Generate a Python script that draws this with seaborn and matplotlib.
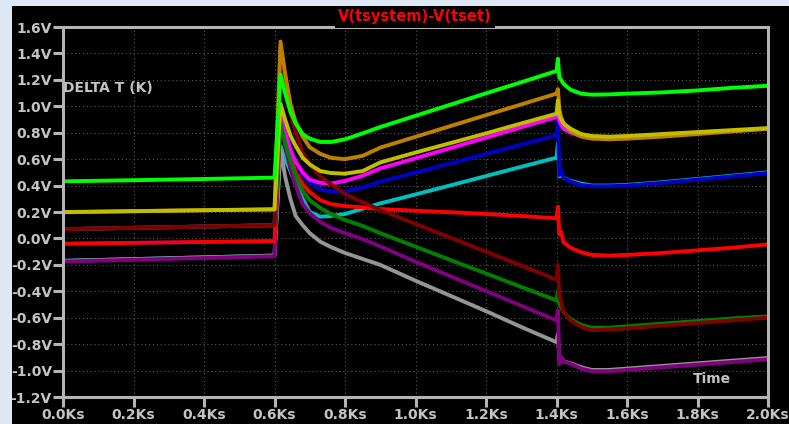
import matplotlib
matplotlib.use("Agg")
import matplotlib.pyplot as plt
from matplotlib.patches import Rectangle
import pandas as pd
import seaborn as sns

# ---------------- data ----------------
time_ks = [0.0, 0.3, 0.6, 0.617, 0.63, 0.645, 0.66, 0.68, 0.70, 0.73, 0.76, 0.80, 0.85, 0.90,
           1.0, 1.1, 1.2, 1.3, 1.4, 1.404, 1.408, 1.413, 1.42, 1.44, 1.47, 1.50, 1.55, 1.60,
           1.70, 1.80, 1.90, 2.0]

lime = [0.432, 0.445, 0.46, 1.24, 1.10, 0.96, 0.87, 0.79, 0.755, 0.73, 0.73, 0.75, 0.795, 0.843,
        0.928, 1.013, 1.098, 1.182, 1.267, 1.36, 1.22, 1.20, 1.17, 1.125, 1.095, 1.088, 1.09, 1.096,
        1.105, 1.12, 1.14, 1.155]
gold = [0.20, 0.21, 0.22, 1.49, 1.25, 1.02, 0.88, 0.77, 0.69, 0.64, 0.61, 0.60, 0.625, 0.687,
        0.769, 0.851, 0.933, 1.014, 1.096, 1.13, 0.98, 0.92, 0.87, 0.81, 0.77, 0.755, 0.75, 0.755,
        0.77, 0.79, 0.81, 0.83]
yellow = [0.198, 0.21, 0.22, 1.02, 0.90, 0.78, 0.70, 0.61, 0.56, 0.51, 0.495, 0.49, 0.51, 0.575,
          0.65, 0.722, 0.795, 0.87, 0.944, 1.045, 0.93, 0.90, 0.87, 0.83, 0.79, 0.775, 0.77, 0.775,
          0.79, 0.805, 0.82, 0.835]
magenta = [0.07, 0.085, 0.10, 0.95, 0.80, 0.67, 0.58, 0.50, 0.445, 0.42, 0.415, 0.435, 0.475, 0.53,
           0.606, 0.684, 0.763, 0.841, 0.919, 0.96, 0.89, 0.86, 0.83, 0.80, 0.775, 0.765, 0.765, 0.77,
           0.785, 0.80, 0.815, 0.83]
blue = [-0.04, -0.03, -0.02, 1.00, 0.82, 0.68, 0.58, 0.48, 0.42, 0.37, 0.355, 0.355, 0.385, 0.43,
        0.498, 0.568, 0.639, 0.71, 0.78, 0.90, 0.48, 0.52, 0.46, 0.43, 0.405, 0.395, 0.395, 0.40,
        0.42, 0.445, 0.47, 0.495]
cyan = [-0.17, -0.15, -0.13, 0.70, 0.60, 0.51, 0.41, 0.30, 0.20, 0.165, 0.17, 0.185, 0.225, 0.265,
        0.333, 0.402, 0.472, 0.542, 0.611, 0.72, 0.47, 0.48, 0.46, 0.435, 0.415, 0.40, 0.40, 0.405,
        0.425, 0.45, 0.475, 0.50]
red = [-0.04, -0.03, -0.02, 1.00, 0.80, 0.63, 0.50, 0.41, 0.35, 0.29, 0.26, 0.245, 0.235, 0.222,
       0.21, 0.198, 0.185, 0.17, 0.152, 0.24, 0.03, 0.05, -0.03, -0.07, -0.105, -0.125, -0.13, -0.125,
       -0.11, -0.09, -0.07, -0.045]
darkred = [0.07, 0.085, 0.10, 1.46, 1.20, 0.95, 0.80, 0.65, 0.56, 0.47, 0.41, 0.335, 0.275, 0.215,
           0.11, 0.005, -0.10, -0.205, -0.312, -0.20, -0.45, -0.47, -0.56, -0.62, -0.67, -0.695, -0.69,
           -0.68, -0.66, -0.64, -0.62, -0.60]
green = [0.07, 0.085, 0.10, 0.88, 0.72, 0.59, 0.47, 0.36, 0.29, 0.23, 0.185, 0.14, 0.095, 0.04,
         -0.062, -0.164, -0.265, -0.367, -0.469, -0.40, -0.50, -0.52, -0.56, -0.61, -0.655, -0.675,
         -0.675, -0.665, -0.645, -0.625, -0.605, -0.59]
purple = [-0.175, -0.155, -0.135, 0.92, 0.70, 0.53, 0.40, 0.26, 0.19, 0.125, 0.08, 0.04, -0.005, -0.06,
          -0.176, -0.287, -0.398, -0.509, -0.62, -0.545, -0.95, -0.90, -0.93, -0.95, -0.985, -1.005,
          -1.005, -0.995, -0.975, -0.955, -0.935, -0.915]
gray = [-0.17, -0.15, -0.13, 0.68, 0.47, 0.30, 0.17, 0.10, 0.04, -0.025, -0.065, -0.11, -0.155, -0.20,
        -0.32, -0.435, -0.55, -0.67, -0.785, -0.72, -0.92, -0.90, -0.93, -0.945, -0.975, -0.995,
        -0.995, -0.985, -0.965, -0.945, -0.925, -0.905]

# drawing order (bottom -> top) and colours
series = {
    "cyan": (cyan, "#00bfbf"),
    "gray": (gray, "#959595"),
    "purple": (purple, "#800080"),
    "blue": (blue, "#0000c8"),
    "red": (red, "#ff0000"),
    "magenta": (magenta, "#ff00ff"),
    "green": (green, "#008000"),
    "darkred": (darkred, "#800000"),
    "gold": (gold, "#bf8000"),
    "yellow": (yellow, "#bfbf00"),
    "lime": (lime, "#00ff00"),
}

y_ticks = [-1.2, -1.0, -0.8, -0.6, -0.4, -0.2, 0.0, 0.2, 0.4, 0.6, 0.8, 1.0, 1.2, 1.4, 1.6]
y_labels = ["-1.2V", "-1.0V", "-0.8V", "-0.6V", "-0.4V", "-0.2V", "0.0V", "0.2V", "0.4V",
            "0.6V", "0.8V", "1.0V", "1.2V", "1.4V", "1.6V"]
x_ticks = [0.0, 0.2, 0.4, 0.6, 0.8, 1.0, 1.2, 1.4, 1.6, 1.8, 2.0]
x_labels = ["0.0Ks", "0.2Ks", "0.4Ks", "0.6Ks", "0.8Ks", "1.0Ks", "1.2Ks", "1.4Ks", "1.6Ks",
            "1.8Ks", "2.0Ks"]

rows = []
for name, (vals, _c) in series.items():
    for t, v in zip(time_ks, vals):
        rows.append({"t": t, "v": v, "series": name})
df = pd.DataFrame(rows)
palette = {name: c for name, (_v, c) in series.items()}
order = list(series.keys())

# ---------------- figure ----------------
W, H = 789, 424
fig = plt.figure(figsize=(W / 100, H / 100), dpi=100, facecolor="#dde8f4")
fig.add_artist(Rectangle((12 / W, 0), 1, 1 - 6 / H, transform=fig.transFigure,
                         facecolor="black", edgecolor="none", zorder=-10))

ax = fig.add_axes([63 / W, 1 - 397 / H, (768 - 63) / W, (397 - 27) / H])
ax.set_facecolor("black")

sns.lineplot(data=df, x="t", y="v", hue="series", hue_order=order, palette=palette,
             linewidth=2.8, legend=False, estimator=None, sort=False, ax=ax)
for ln in ax.get_lines():
    ln.set_solid_joinstyle("round")
    ln.set_solid_capstyle("round")

ax.set_xlim(0, 2.0)
ax.set_ylim(-1.2, 1.6)
ax.set_xticks(x_ticks)
ax.set_xticklabels(x_labels)
ax.set_yticks(y_ticks)
ax.set_yticklabels(y_labels)
ax.set_xlabel("")
ax.set_ylabel("")

axis_col = "#b4b4b4"
lab_col = "#c4c4c4"
for s in ax.spines.values():
    s.set_color(axis_col)
    s.set_linewidth(2.2)
    s.set_zorder(5)
ax.tick_params(axis="both", direction="out", length=7, width=2.2, color=axis_col,
               labelcolor=lab_col, labelsize=10, pad=1)
for lbl in ax.get_xticklabels() + ax.get_yticklabels():
    lbl.set_fontweight("bold")

ax.grid(True, color="#5a5a5a", linestyle=(0, (1, 2.5)), linewidth=0.8)
ax.set_axisbelow(True)

ax.text(0.0, (397 - 88) / 370, "DELTA T (K)", transform=ax.transAxes, ha="left", va="center",
        color=lab_col, fontsize=10, fontweight="bold")
ax.text((693 - 63) / 705, (397 - 379) / 370, "Time", transform=ax.transAxes, ha="left",
        va="center", color=lab_col, fontsize=10, fontweight="bold")

fig.text(415 / W, 1 - 17 / H, "V(tsystem)-V(tset)", ha="center", va="center", color="#ff0000",
         fontsize=10.5, fontweight="bold",
         bbox=dict(facecolor="black", edgecolor="none", pad=2.5))

fig.savefig("out.png", dpi=100, facecolor=fig.get_facecolor())
